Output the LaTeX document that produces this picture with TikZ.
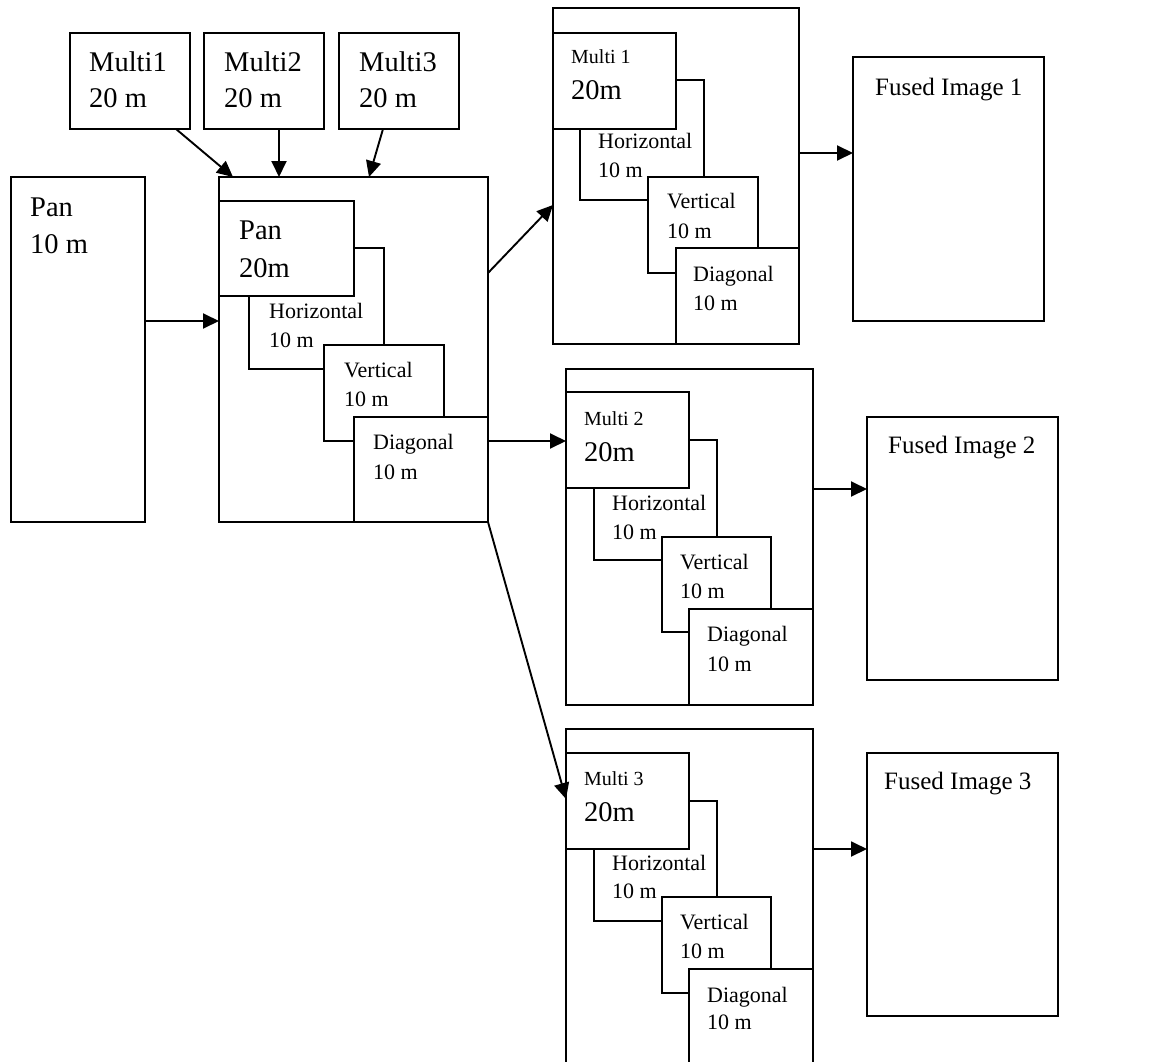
\documentclass[tikz,border=0pt]{standalone}
\usepackage{fontspec}
\setmainfont{Liberation Serif}
\usetikzlibrary{arrows.meta}
\tikzset{
  bx/.style={draw, line width=1.9pt, fill=white, rectangle, inner sep=0pt, outer sep=0pt, anchor=north west},
  big/.style={font=\fontsize{28.5}{34}\selectfont, inner sep=0pt, anchor=base west},
  sml/.style={font=\fontsize{22}{26}\selectfont, inner sep=0pt, anchor=base west},
  msm/.style={font=\fontsize{20}{24}\selectfont, inner sep=0pt, anchor=base west},
  fus/.style={font=\fontsize{25}{30}\selectfont, inner sep=0pt, anchor=base west},
  arr/.style={line width=1.9pt, -{Triangle[length=16pt,width=15pt]}}
}
\newcommand\bxat[5]{\node[bx, minimum width=#4pt, minimum height=#5pt] (#1) at (#2,#3) {};}
\begin{document}
\begin{tikzpicture}[x=1pt,y=-1pt]
\useasboundingbox (0,0) rectangle (1153,1062);
\clip (0,0) rectangle (1153,1062);
% top multi boxes
\bxat{m1}{70}{33}{120}{96}
\bxat{m2}{204}{33}{120}{96}
\bxat{m3}{339}{33}{120}{96}
\node[big] (m1a) at (89,72) {Multi1};
\node[big] (m1b) at (89,108) {20 m};
\node[big] (m2a) at (224,72) {Multi2};
\node[big] (m2b) at (224,108) {20 m};
\node[big] (m3a) at (359,72) {Multi3};
\node[big] (m3b) at (359,108) {20 m};
% pan 10 m
\bxat{P}{11}{177}{134}{345}
\node[big] (pa) at (30,216) {Pan};
\node[big] (pb) at (30,253) {10 m};
% box A
\bxat{A}{219}{177}{269}{345}
\bxat{ah}{249}{248}{135}{121}
\bxat{av}{324}{345}{120}{96}
\bxat{ad}{354}{417}{134}{105}
\bxat{ap}{219}{201}{135}{95}
\node[big] (apa) at (239,239) {Pan};
\node[big] (apb) at (239,277) {20m};
\node[sml] (aha) at (269,318) {Horizontal};
\node[sml] (ahb) at (269,347) {10 m};
\node[sml] (ava) at (344,377) {Vertical};
\node[sml] (avb) at (344,406) {10 m};
\node[sml] (ada) at (373,449) {Diagonal};
\node[sml] (adb) at (373,479) {10 m};
% box B1
\bxat{B1}{553}{8}{246}{336}
\bxat{b1h}{580}{80}{124}{120}
\bxat{b1v}{648}{177}{110}{96}
\bxat{b1d}{676}{248}{123}{96}
\bxat{b1m}{553}{33}{123}{96}
\node[msm] (b1ma) at (571,64) {Multi 1};
\node[big] (b1mb) at (571,100) {20m};
\node[sml] (b1ha) at (598,149) {Horizontal};
\node[sml] (b1hb) at (598,177) {10 m};
\node[sml] (b1va) at (667,208) {Vertical};
\node[sml] (b1vb) at (667,238) {10 m};
\node[sml] (b1da) at (693,281) {Diagonal};
\node[sml] (b1db) at (693,310) {10 m};
\bxat{F1}{853}{57}{191}{264}
\node[fus] (f1t) at (875,96) {Fused Image 1};
% box B2
\bxat{B2}{566}{369}{247}{336}
\bxat{b2h}{594}{440}{123}{120}
\bxat{b2v}{662}{537}{109}{95}
\bxat{b2d}{689}{609}{124}{96}
\bxat{b2m}{566}{392}{123}{96}
\node[msm] (b2ma) at (584,425) {Multi 2};
\node[big] (b2mb) at (584,461) {20m};
\node[sml] (b2ha) at (612,510) {Horizontal};
\node[sml] (b2hb) at (612,539) {10 m};
\node[sml] (b2va) at (680,569) {Vertical};
\node[sml] (b2vb) at (680,598) {10 m};
\node[sml] (b2da) at (707,641) {Diagonal};
\node[sml] (b2db) at (707,671) {10 m};
\bxat{F2}{867}{417}{191}{263}
\node[fus] (f2t) at (888,453) {Fused Image 2};
% box B3
\bxat{B3}{566}{729}{247}{336}
\bxat{b3h}{594}{801}{123}{120}
\bxat{b3v}{662}{897}{109}{96}
\bxat{b3d}{689}{969}{124}{96}
\bxat{b3m}{566}{753}{123}{96}
\node[msm] (b3ma) at (584,785) {Multi 3};
\node[big] (b3mb) at (584,821) {20m};
\node[sml] (b3ha) at (612,870) {Horizontal};
\node[sml] (b3hb) at (612,898) {10 m};
\node[sml] (b3va) at (680,929) {Vertical};
\node[sml] (b3vb) at (680,958) {10 m};
\node[sml] (b3da) at (707,1002) {Diagonal};
\node[sml] (b3db) at (707,1029) {10 m};
\bxat{F3}{867}{753}{191}{263}
\node[fus] (f3t) at (884,789) {Fused Image 3};
% arrows
\draw[arr] ([xshift=-14pt]m1.south east) -- ([xshift=14pt]A.north west);
\draw[arr] ([xshift=15pt]m2.south) -- ([xshift=15pt]m2.south |- A.north);
\draw[arr] ([xshift=-16pt]m3.south) -- ([xshift=150pt]A.north west);
\draw[arr] ([yshift=28.5pt]P.east) -- ([yshift=28.5pt]A.west);
\draw[arr] ([yshift=76.5pt]A.east) -- ([yshift=-29pt]B1.west);
\draw[arr] ([yshift=-91.5pt]A.east) -- ([yshift=-91.5pt]A.east -| B2.west);
\draw[arr] (A.south east) -- ([yshift=-70pt]B3.north west);
\draw[arr] ([yshift=23pt]B1.east) -- ([yshift=23pt]B1.east -| F1.west);
\draw[arr] ([yshift=48pt]B2.east) -- ([yshift=48pt]B2.east -| F2.west);
\draw[arr] ([yshift=-120pt]B3.north east) -- ([yshift=-120pt]B3.north east -| F3.west);
\end{tikzpicture}
\end{document}
